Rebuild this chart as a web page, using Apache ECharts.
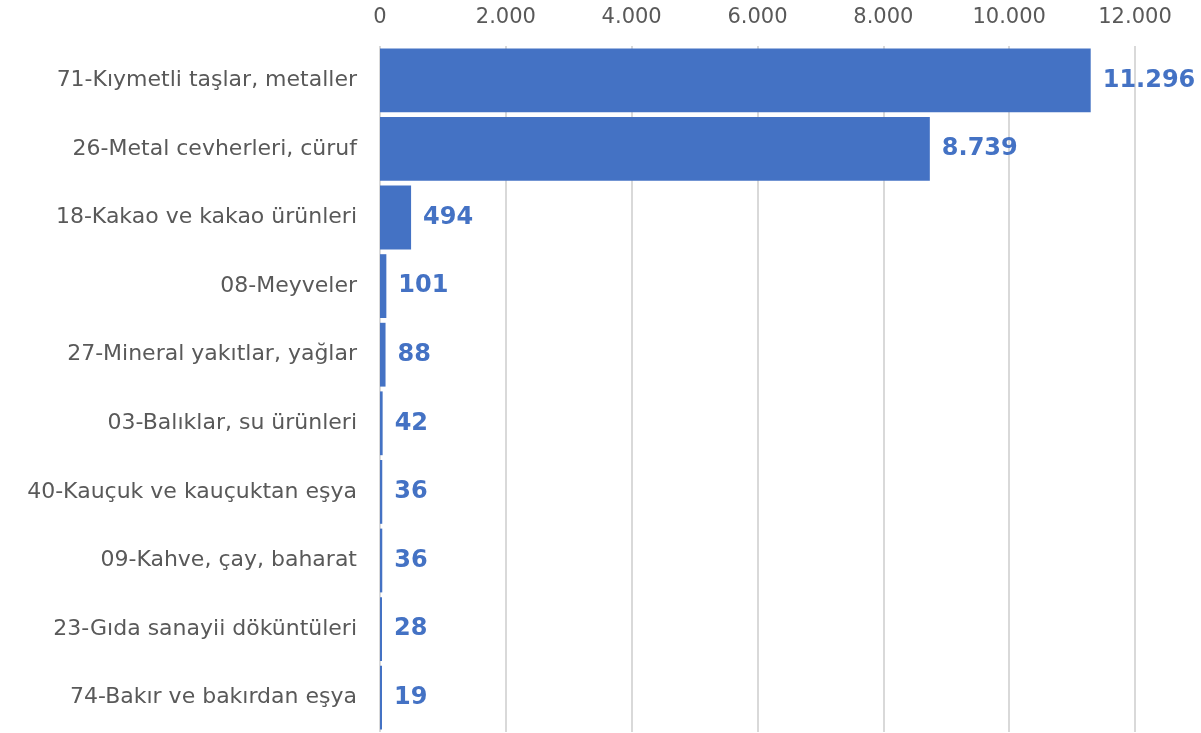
<!DOCTYPE html>
<html><head><meta charset="utf-8">
<script src="https://cdn.jsdelivr.net/npm/echarts@6/dist/echarts.min.js"></script>
<style>html,body{margin:0;padding:0;background:#fff}#c{width:1201px;height:733px}</style>
</head><body><div id="c"></div>
<script>
const categories = ["71-Kıymetli taşlar, metaller","26-Metal cevherleri, cüruf","18-Kakao ve kakao ürünleri","08-Meyveler","27-Mineral yakıtlar, yağlar","03-Balıklar, su ürünleri","40-Kauçuk ve kauçuktan eşya","09-Kahve, çay, baharat","23-Gıda sanayii döküntüleri","74-Bakır ve bakırdan eşya"];
const values = [11296, 8739, 494, 101, 88, 42, 36, 36, 28, 19];
const xTicks = {min: 0, max: 12000, interval: 2000};
const fmt = v => String(v).replace(/\B(?=(\d{3})+(?!\d))/g, '.');
const chart = echarts.init(document.getElementById('c'));
chart.setOption({
  animation: false,
  textStyle: {fontFamily: 'DejaVu Sans'},
  grid: {left: 380, right: 66, top: 46, bottom: 1},
  xAxis: {type: 'value', position: 'top', min: xTicks.min, max: xTicks.max, interval: xTicks.interval,
    axisLine: {show: false}, axisTick: {show: false},
    splitLine: {lineStyle: {color: '#d9d9d9', width: 2}},
    axisLabel: {color: '#595959', fontSize: 21, margin: 18, formatter: fmt}},
  yAxis: {type: 'category', inverse: true, data: categories,
    axisLine: {show: false}, axisTick: {show: false},
    axisLabel: {color: '#595959', fontSize: 22, margin: 23}},
  series: [{type: 'bar', data: values, barCategoryGap: '7%', barMinHeight: 2,
    itemStyle: {color: '#4472C4'},
    label: {show: true, position: 'right', distance: 12, color: '#4472C4', fontSize: 24, fontWeight: 'bold', formatter: p => fmt(p.value)}}]
});
</script></body></html>
